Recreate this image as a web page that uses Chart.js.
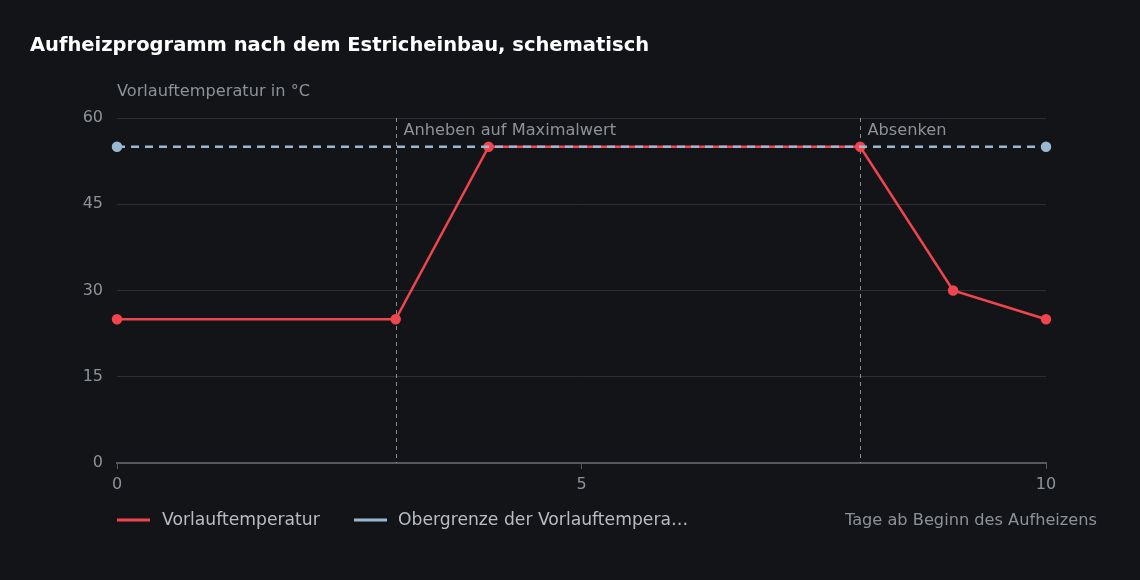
<!DOCTYPE html>
<html><head><meta charset="utf-8">
<script src="https://cdn.jsdelivr.net/npm/chart.js@4"></script>
<style>html,body{margin:0;background:#131417;}canvas{display:block}</style>
</head><body>
<div style="width:1140px;height:580px"><canvas id="c"></canvas></div>
<script>
const days = [0, 3, 4, 8, 9, 10];
const temps = [25, 25, 55, 55, 30, 25];
const limitDays = [0, 10];
const limitTemps = [55, 55];
const phaseDays = [3, 8];
const phaseLabels = ['Anheben auf Maximalwert', 'Absenken'];
const yTicks = [0, 15, 30, 45, 60];
const xTicks = [0, 5, 10];
const F = '"DejaVu Sans", sans-serif';
const RED = '#f0454f', BLUE = '#9bb8d3', MUTED = '#8d9299';

const overlay = {
  id: 'overlay',
  beforeDatasetsDraw(ch) {
    const {ctx, chartArea: a, scales: {x, y}} = ch;
    ctx.save();
    ctx.strokeStyle = '#8a8f96'; ctx.lineWidth = 1; ctx.setLineDash([4, 4]);
    phaseDays.forEach((d, i) => {
      const px = Math.round(x.getPixelForValue(d)) + 0.5;
      ctx.beginPath(); ctx.moveTo(px, a.top); ctx.lineTo(px, a.bottom); ctx.stroke();
      ctx.fillStyle = MUTED; ctx.font = '16.2px ' + F; ctx.textBaseline = 'middle';
      ctx.fillText(phaseLabels[i], px + 7, 131);
    });
    ctx.restore();
  },
  afterDraw(ch) {
    const ctx = ch.ctx;
    ctx.save();
    ctx.textBaseline = 'middle';
    ctx.fillStyle = '#ffffff'; ctx.font = 'bold 19.5px ' + F;
    ctx.fillText('Aufheizprogramm nach dem Estricheinbau, schematisch', 30, 46);
    ctx.fillStyle = MUTED; ctx.font = '16.2px ' + F;
    ctx.fillText('Vorlauftemperatur in °C', 117, 92);
    ctx.textAlign = 'right';
    ctx.fillText('Tage ab Beginn des Aufheizens', 1097, 521);
    ctx.textAlign = 'left';
    ctx.font = '17.2px ' + F;
    ctx.lineWidth = 3;
    ctx.strokeStyle = RED; ctx.beginPath(); ctx.moveTo(117, 520); ctx.lineTo(150, 520); ctx.stroke();
    ctx.fillStyle = '#b9bdc3'; ctx.fillText('Vorlauftemperatur', 162, 521);
    ctx.strokeStyle = BLUE; ctx.beginPath(); ctx.moveTo(354, 520); ctx.lineTo(387, 520); ctx.stroke();
    ctx.fillText('Obergrenze der Vorlauftempera…', 398, 521);
    ctx.restore();
  }
};

new Chart(document.getElementById('c'), {
  type: 'scatter',
  data: {
    datasets: [
      {data: limitDays.map((d, i) => ({x: d, y: limitTemps[i]})), showLine: true, clip: false,
       borderColor: BLUE, backgroundColor: BLUE, borderWidth: 2.5, borderDash: [8, 6],
       pointRadius: 4, pointHoverRadius: 4},
      {data: days.map((d, i) => ({x: d, y: temps[i]})), showLine: true, clip: false,
       borderColor: RED, backgroundColor: RED, borderWidth: 2.5,
       pointRadius: 4, pointHoverRadius: 4}
    ]
  },
  options: {
    responsive: true, maintainAspectRatio: false, animation: false,
    layout: {padding: {top: 118, right: 94, bottom: 0, left: 0}},
    plugins: {legend: {display: false}, tooltip: {enabled: false}},
    scales: {
      x: {type: 'linear', min: 0, max: 10,
          afterBuildTicks: s => { s.ticks = xTicks.map(v => ({value: v})); },
          afterFit: s => { s.height = 117; },
          grid: {display: true, drawOnChartArea: false, drawTicks: true, tickLength: 6, color: '#55595f'},
          border: {color: '#55595f', width: 2},
          ticks: {color: MUTED, font: {family: F, size: 16}, padding: 6}},
      y: {min: 0, max: 60,
          afterBuildTicks: s => { s.ticks = yTicks.map(v => ({value: v})); },
          afterFit: s => { s.width = 117; },
          grid: {color: '#2c2f33', drawTicks: false},
          border: {display: false},
          ticks: {color: MUTED, font: {family: F, size: 16}, padding: 14}}
    }
  },
  plugins: [overlay]
});
</script>
</body></html>
